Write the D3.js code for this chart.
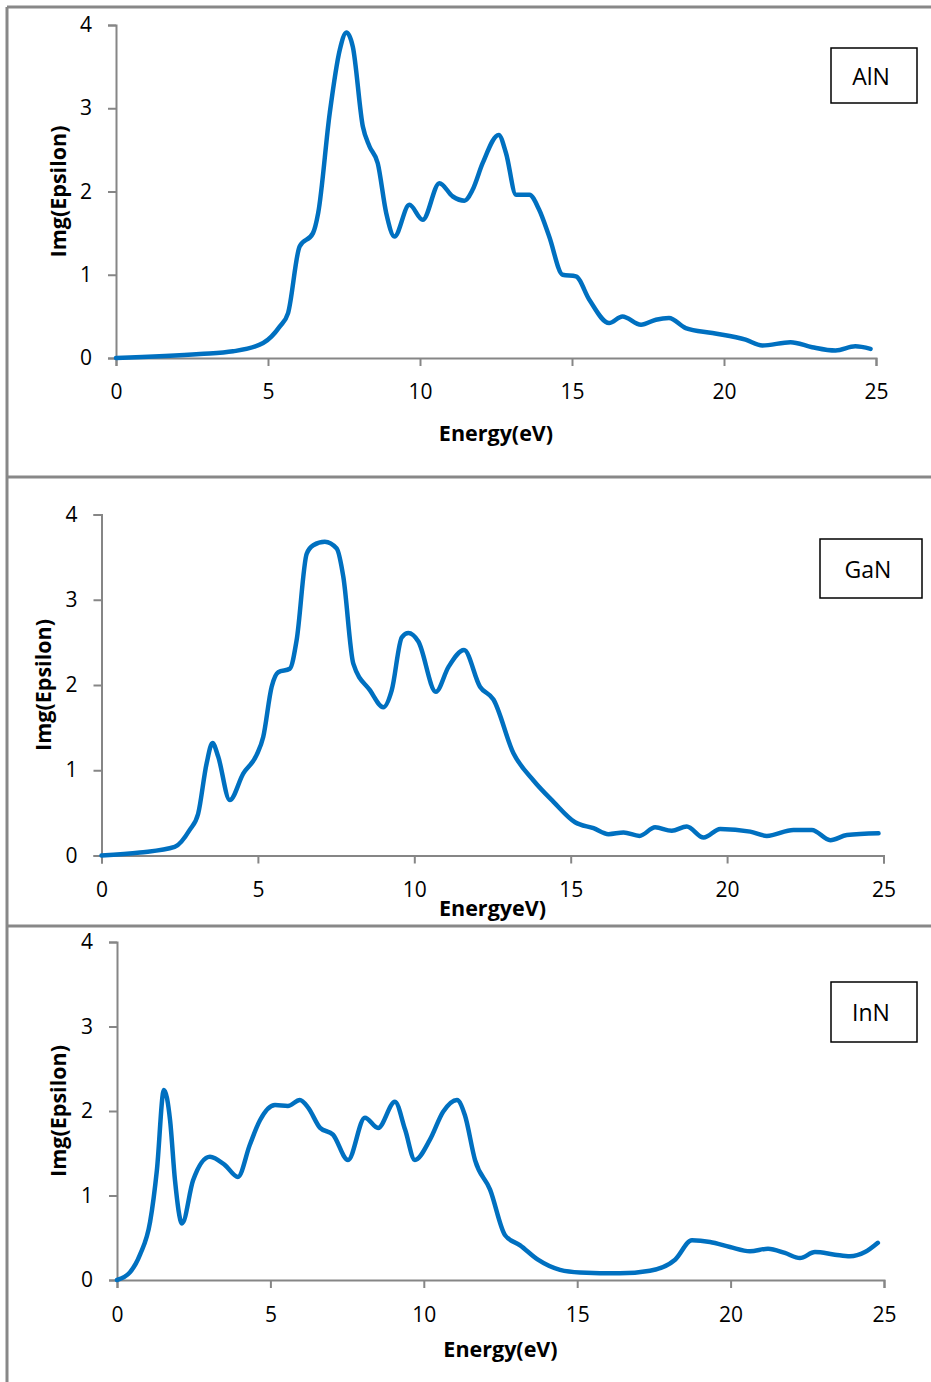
<!DOCTYPE html>
<html><head><meta charset="utf-8">
<script src="https://cdn.jsdelivr.net/npm/d3@7"></script>
<style>body{margin:0;background:#fff}svg{display:block}</style>
</head><body>
<script>
// ---- data ----
const xTicks = [0, 5, 10, 15, 20, 25];
const yTicks = [0, 1, 2, 3, 4];
const materials = ["AlN", "GaN", "InN"];
const xTitles = ["Energy(eV)", "EnergyeV)", "Energy(eV)"];
const yTitle = "Img(Epsilon)";

const alnE = [0,2.76,3.85,4.84,5.39,5.66,6.04,6.48,6.65,7.03,7.36,7.58,7.79,8.12,8.34,8.61,8.89,9.16,9.65,10.09,10.64,11.08,11.46,11.73,12.06,12.59,12.83,13.16,13.60,13.92,14.25,14.69,15.13,15.57,16.22,16.66,17.27,17.76,18.19,18.74,19.62,20.71,21.26,22.19,22.9,23.67,24.32,24.82];
const alnV = [0,0.048,0.08,0.18,0.38,0.54,1.34,1.50,1.74,2.94,3.70,3.91,3.74,2.78,2.54,2.34,1.74,1.46,1.84,1.66,2.10,1.94,1.89,2.02,2.34,2.68,2.46,1.96,1.96,1.78,1.46,1.00,0.98,0.70,0.42,0.50,0.40,0.46,0.48,0.36,0.30,0.22,0.15,0.19,0.13,0.09,0.14,0.11];

const ganE = [0,1.23,2.34,2.82,3.09,3.36,3.55,3.73,4.10,4.53,4.96,5.17,5.44,5.65,6.02,6.24,6.56,6.77,7.14,7.52,7.73,8.05,8.58,9.01,9.28,9.60,9.81,10.13,10.69,11.09,11.59,12.10,12.53,13.17,13.81,14.45,15.14,15.73,16.21,16.69,17.20,17.70,18.23,18.71,19.25,19.78,20.74,21.27,22.12,22.71,23.30,23.83,24.84];
const ganV = [0,0.035,0.10,0.30,0.49,1.08,1.32,1.16,0.65,0.96,1.18,1.39,1.98,2.15,2.19,2.53,3.54,3.64,3.68,3.60,3.27,2.25,1.94,1.74,1.94,2.56,2.61,2.51,1.92,2.21,2.41,1.98,1.83,1.20,0.88,0.63,0.39,0.32,0.25,0.27,0.23,0.33,0.29,0.34,0.21,0.31,0.28,0.23,0.30,0.30,0.18,0.24,0.26];

const innE = [0,0.42,0.75,1.08,1.30,1.53,1.73,1.89,2.12,2.48,3.03,3.52,3.94,4.33,4.66,5.15,5.57,5.96,6.23,6.62,7.04,7.53,8.08,8.51,9.06,9.39,9.71,10.20,10.63,11.08,11.34,11.67,12.16,12.65,13.14,13.72,14.44,15.09,16.39,17.37,18.19,18.74,19.33,19.98,20.63,21.22,21.77,22.26,22.75,23.40,23.89,24.38,24.80];
const innV = [0,0.09,0.30,0.69,1.30,2.25,1.89,1.18,0.67,1.18,1.46,1.36,1.22,1.60,1.89,2.07,2.06,2.13,2.04,1.80,1.72,1.42,1.92,1.80,2.11,1.78,1.42,1.66,1.99,2.13,1.95,1.42,1.07,0.53,0.41,0.24,0.12,0.09,0.08,0.11,0.24,0.47,0.45,0.39,0.34,0.37,0.32,0.26,0.33,0.30,0.28,0.33,0.44];

const seriesE = [alnE, ganE, innE];
const seriesV = [alnV, ganV, innV];

// ---- layout ----
const W = 931, H = 1382;
const panels = [
  {x0:116, x1:876, y0:358, y1:25, yTitleX:57, xTitleY:432, xLblY:391, box:[831,48,86,55]},
  {x0:101.5, x1:883.5, y0:855.5, y1:514.5, yTitleX:42, xTitleY:907, xLblY:889, box:[820,539,102,59]},
  {x0:117, x1:884, y0:1280, y1:942, yTitleX:57, xTitleY:1348, xLblY:1314, box:[831,982,86,60]}
];

const svg = d3.select("body").append("svg").attr("width", W).attr("height", H);
const font = "'Open Sans', 'Liberation Sans', sans-serif";
const axisCol = "#868686";

// panel frames
const frame = svg.append("g").attr("stroke", "#888").attr("stroke-width", 3).attr("fill", "none");
frame.append("line").attr("x1", 7).attr("x2", 7).attr("y1", 7).attr("y2", H);
[7, 477, 926].forEach(y => frame.append("line").attr("x1", 7).attr("x2", W).attr("y1", y).attr("y2", y));

panels.forEach((p, i) => {
  const x = d3.scaleLinear().domain([0, 25]).range([p.x0, p.x1]);
  const y = d3.scaleLinear().domain([0, 4]).range([p.y0, p.y1]);
  const g = svg.append("g");

  // y axis
  const ya = g.append("g").attr("transform", `translate(${p.x0},0)`)
    .call(d3.axisLeft(y).tickValues(yTicks).tickSize(8).tickPadding(16).tickFormat(d3.format("d")));
  // x axis
  const xa = g.append("g").attr("transform", `translate(0,${p.y0})`)
    .call(d3.axisBottom(x).tickValues(xTicks).tickSize(8).tickPadding(14).tickFormat(d3.format("d")));
  [ya, xa].forEach(a => {
    a.select(".domain").attr("stroke", axisCol).attr("stroke-width", 2);
    a.selectAll(".tick line").attr("stroke", axisCol).attr("stroke-width", 2);
    a.selectAll("text").attr("font-family", font).attr("font-size", 21).attr("fill", "#000");
  });
  xa.selectAll("text").attr("y", null).attr("dy", null)
    .attr("transform", `translate(0,${p.xLblY - p.y0})`).attr("dominant-baseline", "central");

  // curve
  const E = seriesE[i], V = seriesV[i];
  const pts = E.map((e, k) => [e, V[k]]);
  g.append("path").datum(pts)
    .attr("fill", "none").attr("stroke", "#0070C0").attr("stroke-width", 4.5)
    .attr("stroke-linejoin", "round").attr("stroke-linecap", "round")
    .attr("d", d3.line().x(d => x(d[0])).y(d => y(d[1])).curve(d3.curveMonotoneX));

  // titles
  g.append("text").attr("x", (p.x0 + p.x1) / 2).attr("y", p.xTitleY)
    .attr("text-anchor", "middle").attr("dominant-baseline", "central")
    .attr("font-family", font).attr("font-weight", "bold").attr("font-size", 21.5)
    .text(xTitles[i]);
  const yc = (p.y0 + p.y1) / 2;
  g.append("text").attr("transform", `translate(${p.yTitleX},${yc}) rotate(-90)`)
    .attr("text-anchor", "middle").attr("dominant-baseline", "central")
    .attr("font-family", font).attr("font-weight", "bold").attr("font-size", 21.5)
    .text(yTitle);

  // legend box
  const [bx, by, bw, bh] = p.box;
  g.append("rect").attr("x", bx).attr("y", by).attr("width", bw).attr("height", bh)
    .attr("fill", "#fff").attr("stroke", "#000").attr("stroke-width", 1.5);
  g.append("text").attr("x", bx + bw / 2 - 3).attr("y", by + bh / 2)
    .attr("text-anchor", "middle").attr("dominant-baseline", "central")
    .attr("font-family", font).attr("font-size", 23).text(materials[i]);
});
</script>
</body></html>
